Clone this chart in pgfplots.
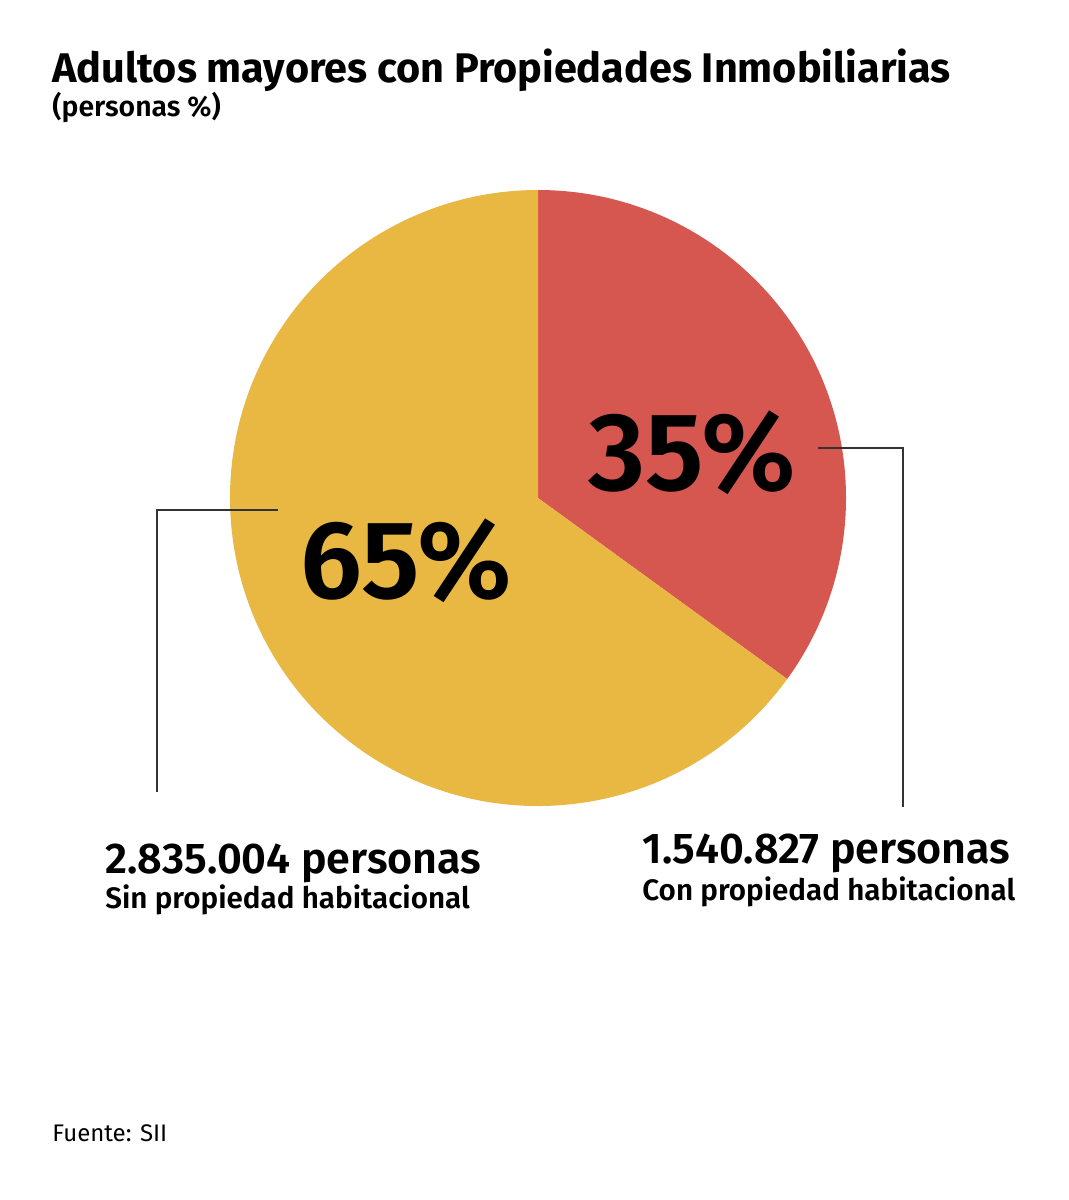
\documentclass[border=0pt]{standalone}
\usepackage{fontspec}
\setmainfont{Fira Sans}
\newfontfamily\semi{Fira Sans SemiBold}
\usepackage{pgfplots}
\usepackage{pgfplotstable}
\pgfplotsset{compat=1.18}

\definecolor{conprop}{HTML}{D65650}
\definecolor{sinprop}{HTML}{E9B843}
\definecolor{leader}{HTML}{333333}

% share of older adults, in percent
\pgfplotstableread{
grupo  pct
con    35
sin    65
}\pietable

\begin{document}
\begin{tikzpicture}[x=0.5pt,y=-0.5pt]
  \pgfplotstablegetelem{0}{pct}\of\pietable \let\pcon\pgfplotsretval
  \pgfplotstablegetelem{1}{pct}\of\pietable \let\psin\pgfplotsretval
  \pgfmathsetmacro{\aend}{90-3.6*\pcon}
  \pgfmathsetmacro{\send}{\aend-3.6*\psin}

  % page
  \fill[white] (0,0) rectangle (1069,1200);

  \begin{axis}[
    at={(269pt,-249pt)}, anchor=center,
    scale only axis, width=308pt, height=308pt,
    xmin=-1, xmax=1, ymin=-1, ymax=1,
    hide axis, clip=false]
    % Con propiedad habitacional
    \fill[conprop] (axis cs:0,0) -- (axis cs:0,1)
      arc[start angle=90, end angle=\aend, radius=154pt] -- cycle;
    % Sin propiedad habitacional
    \fill[sinprop] (axis cs:0,0) -- (axis cs:{cos(\aend)},{sin(\aend)})
      arc[start angle=\aend, end angle=\send, radius=154pt] -- cycle;
  \end{axis}

  % leader lines
  \draw[leader, line width=0.7pt] (278,510) -- (157,510) -- (157,792);
  \draw[leader, line width=0.7pt] (818,448) -- (903,448) -- (903,807);

  % percentages
  \node[anchor=base west, inner sep=0pt, font=\fontsize{55.5}{60}\semi] at (588,490) {\pcon\%};
  \node[anchor=base west, inner sep=0pt, font=\fontsize{55.5}{60}\semi] at (300,598) {\psin\%};

  % titles
  \node[anchor=base west, inner sep=0pt, font=\fontsize{20.7}{24}\selectfont\bfseries] at (52,82) {Adultos mayores con Propiedades Inmobiliarias};
  \node[anchor=base west, inner sep=0pt, font=\fontsize{14.2}{16}\semi] at (52,116) {(personas \%)};

  % slice labels
  \node[anchor=base west, inner sep=0pt, font=\fontsize{21.5}{24}\semi] at (105,873) {2.835.004 personas};
  \node[anchor=base west, inner sep=0pt, font=\fontsize{14.8}{17}\semi] at (105,908) {Sin propiedad habitacional};
  \node[anchor=base west, inner sep=0pt, font=\fontsize{21.5}{24}\semi] at (642,863) {1.540.827 personas};
  \node[anchor=base west, inner sep=0pt, font=\fontsize{14.8}{17}\semi] at (642,900) {Con propiedad habitacional};

  % source
  \node[anchor=base west, inner sep=0pt, font=\fontsize{12}{14}\selectfont] at (52,1141) {Fuente: SII};
\end{tikzpicture}
\end{document}
